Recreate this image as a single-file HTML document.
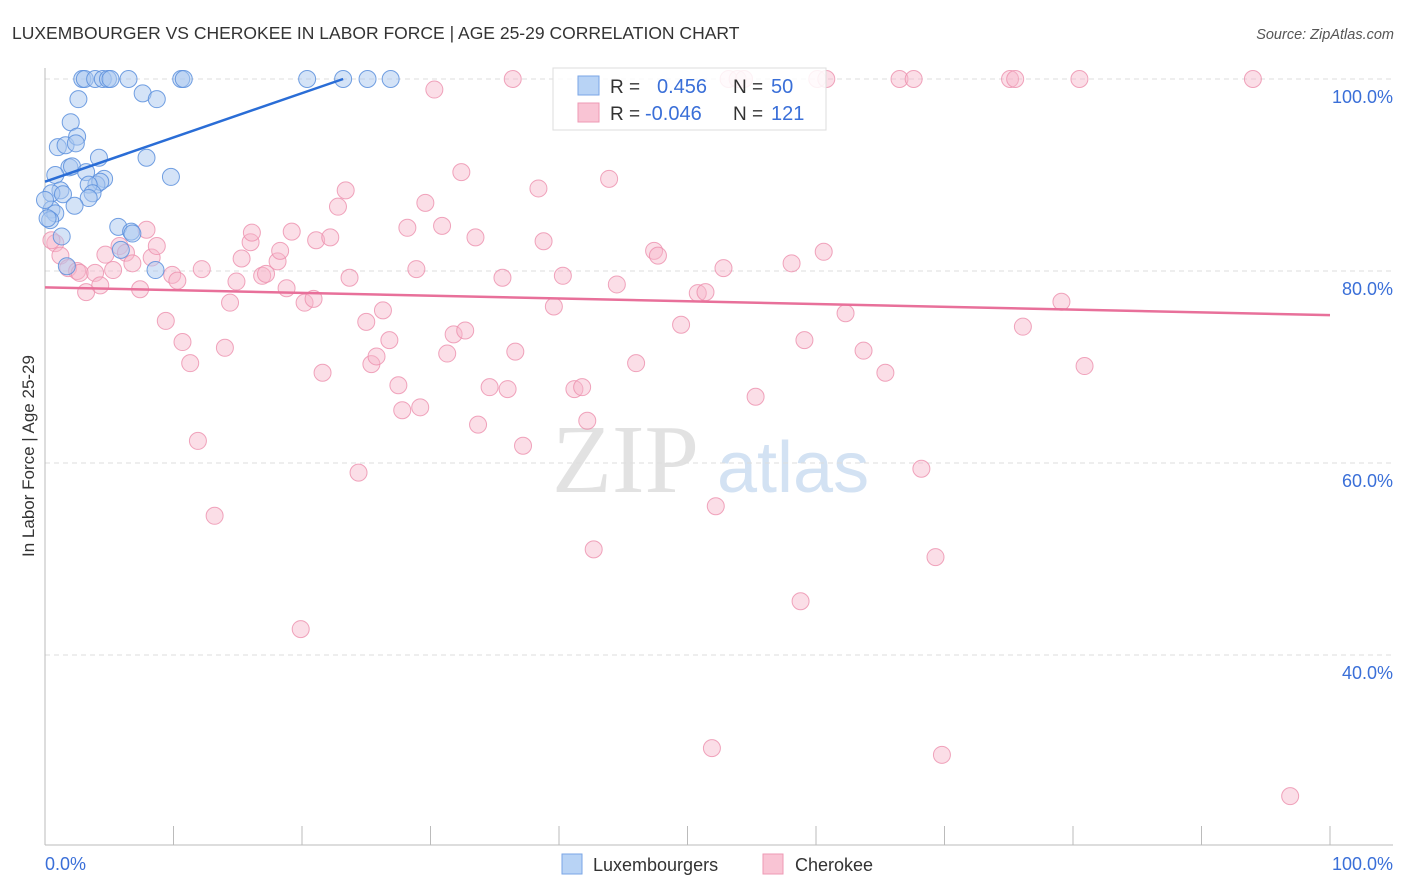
<!DOCTYPE html>
<html><head><meta charset="utf-8"><style>
body{margin:0;background:#fff;font-family:"Liberation Sans",sans-serif;}
svg{display:block}
</style></head><body>
<svg id="chart" width="1406" height="892">
<text x="12" y="39" font-size="17.5" fill="#333">LUXEMBOURGER VS CHEROKEE IN LABOR FORCE | AGE 25-29 CORRELATION CHART</text>
<text x="1394" y="39" font-size="14.5" fill="#555" font-style="italic" text-anchor="end">Source: ZipAtlas.com</text>
<g>
<text x="552" y="492" font-size="98" font-family="Liberation Serif,serif" fill="#e2e2e2">ZIP</text>
<text x="717" y="492" font-size="72" fill="#d3e2f3">atlas</text>
</g>
<g id="grid"></g>
<g id="axes"></g>
<g id="pts"></g>
<g id="trends"></g>
<text transform="translate(34,456) rotate(-90)" font-size="17" fill="#333" text-anchor="middle">In Labor Force | Age 25-29</text>
<g>
<rect x="553" y="68" width="273" height="62" fill="#fff" fill-opacity="0.85" stroke="#ddd"/>
<rect x="578" y="76" width="21" height="19" fill="#b8d3f5" stroke="#7aa6e6"/>
<rect x="578" y="103" width="21" height="19" fill="#f9c4d4" stroke="#ee9ab4"/>
<text x="610" y="93" font-size="19" fill="#333">R = </text><text x="657" y="93" font-size="20" fill="#3a6fd8">0.456</text>
<text x="733" y="93" font-size="19" fill="#333">N = </text><text x="771" y="93" font-size="20" fill="#3a6fd8">50</text>
<text x="610" y="120" font-size="19" fill="#333">R = </text><text x="645" y="120" font-size="20" fill="#3a6fd8">-0.046</text>
<text x="733" y="120" font-size="19" fill="#333">N = </text><text x="771" y="120" font-size="20" fill="#3a6fd8">121</text>
</g>
<g>
<rect x="562" y="854" width="20" height="20" fill="#b8d3f5" stroke="#7aa6e6"/>
<text x="593" y="871" font-size="18" fill="#333">Luxembourgers</text>
<rect x="763" y="854" width="20" height="20" fill="#f9c4d4" stroke="#ee9ab4"/>
<text x="795" y="871" font-size="18" fill="#333">Cherokee</text>
</g>
</svg>
<script>
const yTicks=[100,80,60,40];
const yTickLabels=["100.0%","80.0%","60.0%","40.0%"];
const xTicks=[0,10,20,30,40,50,60,70,80,90,100];
const luxX=[2.9,3.1,3.9,4.5,4.9,5.1,6.5,10.6,10.8,20.4,23.2,25.1,26.9,2.6,7.6,8.7,2.0,1.0,1.6,2.5,2.4,4.2,1.9,2.1,7.9,9.8,0.8,3.2,4.6,4.0,4.3,3.4,3.7,1.2,0.5,1.4,3.4,2.3,0.5,0.8,0.4,0.2,5.7,6.7,6.8,1.3,5.9,8.6,1.7,0.0];
const luxY=[100,100,100,100,100,100,100,100,100,100,100,100,100,97.9,98.5,97.9,95.5,92.9,93.1,94.0,93.3,91.8,90.8,90.9,91.8,89.8,90.0,90.3,89.6,89.0,89.3,89.0,88.1,88.4,88.1,88.0,87.6,86.8,86.4,86.0,85.3,85.5,84.6,84.1,83.9,83.6,82.2,80.1,80.5,87.4];
const cherX=[0.8,0.5,1.2,1.8,2.5,2.7,3.2,3.9,4.3,4.7,5.3,5.8,6.3,6.8,7.4,7.9,8.3,8.7,9.4,9.9,10.3,10.7,11.3,11.9,12.2,13.2,14.0,14.4,14.9,15.3,16.0,16.1,16.9,17.2,18.1,18.3,18.8,19.2,19.9,20.2,20.9,21.1,21.6,22.2,22.8,23.4,23.7,24.4,25.0,25.4,25.8,26.3,26.8,27.5,27.8,28.2,28.9,29.2,29.6,30.3,30.9,31.3,31.8,32.4,32.7,33.5,33.7,34.6,35.6,36.0,36.4,36.6,37.2,38.4,38.8,39.6,40.3,41.2,41.8,42.2,42.7,43.9,44.5,46.0,47.4,47.7,49.5,50.8,51.4,51.9,52.2,52.8,53.2,53.9,54.4,55.3,58.1,58.8,59.1,60.1,60.8,60.6,62.3,63.7,65.4,66.5,67.6,68.2,69.3,69.8,75.1,75.5,76.1,79.1,80.5,80.9,94.0,96.9];
const cherY=[82.9,83.2,81.6,80.3,80.0,79.8,77.8,79.8,78.5,81.7,80.1,82.6,81.9,80.8,78.1,84.3,81.4,82.6,74.8,79.6,79.0,72.6,70.4,62.3,80.2,54.5,72.0,76.7,78.9,81.3,83.0,84.0,79.5,79.7,81.0,82.1,78.2,84.1,42.7,76.7,77.1,83.2,69.4,83.5,86.7,88.4,79.3,59.0,74.7,70.3,71.1,75.9,72.8,68.1,65.5,84.5,80.2,65.8,87.1,98.9,84.7,71.4,73.4,90.3,73.8,83.5,64.0,67.9,79.3,67.7,100,71.6,61.8,88.6,83.1,76.3,79.5,67.7,67.9,64.4,51.0,89.6,78.6,70.4,82.1,81.6,74.4,77.7,77.8,30.3,55.5,80.3,100,100,100,66.9,80.8,45.6,72.8,100,100,82.0,75.6,71.7,69.4,100,100,59.4,50.2,29.6,100,100,74.2,76.8,100,70.1,100,25.3];
const luxTrend=[[0,89.3],[23.2,100]];
const cherTrend=[[0,78.3],[100,75.4]];
const NS="http://www.w3.org/2000/svg";
const X=v=>45+v*12.85;
const Y=v=>79+(100-v)*9.6;
function mk(tag,attrs,parent){const e=document.createElementNS(NS,tag);for(const k in attrs)e.setAttribute(k,attrs[k]);document.getElementById(parent).appendChild(e);return e;}
yTicks.forEach((t,i)=>{
 const l=mk('line',{x1:45,x2:1393,y1:Y(t),y2:Y(t),stroke:'#ddd','stroke-dasharray':'5,4'},'grid');
 
 
 const tx=mk('text',{x:1393,y:Y(t)+24,'font-size':18,fill:'#3a6fd8','text-anchor':'end'},'grid');
 tx.textContent=yTickLabels[i];
 
 
});
const ax=mk('line',{x1:45,x2:1393,y1:845,y2:845,stroke:'#bbb'},'axes');


const ay=mk('line',{x1:45,x2:45,y1:68,y2:845,stroke:'#bbb'},'axes');


xTicks.forEach(t=>{
 const l=mk('line',{x1:X(t),x2:X(t),y1:826,y2:845,stroke:'#bbb'},'axes');
 
 
});
const xl0=mk('text',{x:45,y:870,'font-size':18,fill:'#3a6fd8'},'axes');xl0.textContent='0.0%';


const xl1=mk('text',{x:1393,y:870,'font-size':18,fill:'#3a6fd8','text-anchor':'end'},'axes');xl1.textContent='100.0%';


cherX.forEach((v,i)=>{
 const c=mk('circle',{cx:X(v),cy:Y(cherY[i]),r:8.5,fill:'#f7b6c9','fill-opacity':0.45,stroke:'#ec8fad','stroke-opacity':0.8},'pts');
 
 
});
luxX.forEach((v,i)=>{
 const c=mk('circle',{cx:X(v),cy:Y(luxY[i]),r:8.5,fill:'#a9c8f0','fill-opacity':0.5,stroke:'#5b8fdd','stroke-opacity':0.85},'pts');
 
 
});
const t1=mk('line',{x1:X(luxTrend[0][0]),y1:Y(luxTrend[0][1]),x2:X(luxTrend[1][0]),y2:Y(luxTrend[1][1]),stroke:'#2a6dd6','stroke-width':2.5},'trends');


const t2=mk('line',{x1:X(cherTrend[0][0]),y1:Y(cherTrend[0][1]),x2:X(cherTrend[1][0]),y2:Y(cherTrend[1][1]),stroke:'#e8709a','stroke-width':2.5},'trends');


</script>
</body></html>
